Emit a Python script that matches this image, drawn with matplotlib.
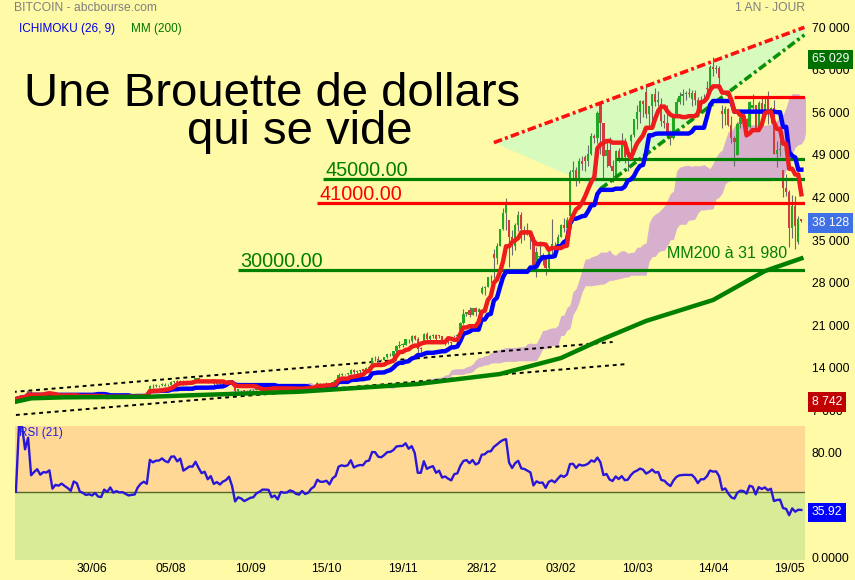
import numpy as np
import pandas as pd
import matplotlib
matplotlib.use("Agg")
import matplotlib.pyplot as plt

# Bitcoin daily prices in k$ (calendar days from 2020-05-25)
close_may20 = [8.90, 8.84, 9.20, 9.58, 9.43, 9.70, 9.45]
close_jun20 = [10.20, 9.52, 9.67, 9.80, 9.66, 9.65, 9.76, 9.78, 9.77, 9.87,
               9.32, 9.48, 9.48, 9.39, 9.45, 9.54, 9.46, 9.39, 9.29, 9.33,
               9.29, 9.68, 9.62, 9.30, 9.25, 9.16, 9.00, 9.12, 9.19, 9.14]
close_jul20 = [9.23, 9.09, 9.07, 9.13, 9.07, 9.34, 9.25, 9.43, 9.23, 9.29,
               9.24, 9.30, 9.24, 9.25, 9.19, 9.13, 9.15, 9.17, 9.21, 9.16,
               9.39, 9.53, 9.61, 9.55, 9.70, 9.93, 11.03, 10.94, 11.10, 11.11,
               11.32]
close_aug20 = [11.80, 11.07, 11.23, 11.19, 11.74, 11.77, 11.60, 11.75, 11.68, 11.88,
               11.41, 11.58, 11.78, 11.77, 11.87, 11.91, 12.25, 11.99, 11.75, 11.87,
               11.50, 11.66, 11.65, 11.75, 11.32, 11.46, 11.32, 11.54, 11.51, 11.68,
               11.65]
close_sep20 = [11.92, 11.39, 10.17, 10.48, 10.17, 10.28, 10.37, 10.13, 10.24, 10.36,
               10.40, 10.44, 10.33, 10.68, 10.79, 10.95, 10.95, 10.93, 11.09, 10.92,
               10.42, 10.53, 10.24, 10.74, 10.69, 10.73, 10.78, 10.70, 10.84, 10.78]
close_oct20 = [10.62, 10.57, 10.55, 10.67, 10.79, 10.60, 10.67, 10.92, 11.06, 11.30,
               11.38, 11.54, 11.43, 11.43, 11.50, 11.32, 11.36, 11.48, 11.74, 11.92,
               12.82, 12.97, 12.93, 13.11, 13.03, 13.03, 13.64, 13.27, 13.46, 13.56,
               13.80]
close_nov20 = [13.74, 13.55, 14.03, 14.13, 15.58, 15.57, 14.83, 15.48, 15.33, 15.30,
               15.70, 16.28, 16.32, 16.07, 15.96, 16.73, 17.66, 17.80, 17.82, 18.68,
               18.68, 18.42, 18.37, 19.16, 18.73, 17.15, 17.14, 17.72, 18.18, 19.63]
close_dec20 = [18.80, 19.20, 19.45, 18.70, 19.15, 19.36, 19.17, 18.32, 18.55, 18.26,
               18.06, 18.80, 19.17, 19.27, 19.44, 21.31, 22.81, 23.14, 23.87, 23.48,
               22.75, 23.82, 23.24, 23.73, 24.71, 26.44, 26.27, 27.08, 27.36, 28.84,
               29.00]
close_jan21 = [29.37, 32.13, 32.78, 31.97, 33.99, 36.82, 39.37, 40.80, 40.25, 38.24,
               35.54, 34.01, 37.39, 39.19, 36.82, 36.18, 35.79, 36.63, 36.07, 35.55,
               30.83, 33.01, 32.10, 32.29, 32.37, 32.57, 30.43, 33.47, 34.32, 34.32,
               33.11]
close_feb21 = [33.54, 35.51, 37.47, 36.93, 38.29, 39.27, 38.90, 46.20, 46.48, 44.92,
               47.91, 47.50, 47.11, 48.72, 47.94, 49.20, 52.15, 51.68, 55.89, 56.10,
               57.54, 54.21, 48.82, 49.71, 47.09, 46.34, 46.19, 45.14]
close_mar21 = [49.63, 48.38, 50.54, 48.56, 48.93, 48.91, 51.21, 52.30, 54.82, 56.01,
               57.81, 57.33, 61.24, 59.30, 55.66, 56.95, 58.92, 57.65, 58.03, 58.10,
               57.35, 54.53, 54.21, 52.77, 51.70, 55.14, 55.85, 55.78, 57.63, 58.73,
               58.92]
close_apr21 = [59.10, 59.02, 57.08, 58.21, 59.12, 57.99, 55.95, 58.08, 58.09, 59.77,
               59.96, 59.83, 63.50, 63.11, 63.31, 61.57, 60.31, 56.20, 55.72, 56.47,
               53.91, 51.76, 51.09, 50.05, 49.00, 54.02, 55.03, 54.82, 53.56, 57.75]
close_may21 = [57.83, 56.63, 57.21, 53.21, 57.44, 56.40, 57.36, 58.80, 58.23, 55.86,
               56.70, 49.15, 49.72, 49.88, 46.76, 46.43, 43.54, 42.91, 36.96, 40.56,
               37.30, 37.54, 34.70, 38.40, 38.128]

high_may20 = [8.98, 9.01, 9.22, 9.61, 9.61, 9.74, 9.70]
high_jun20 = [10.38, 10.23, 9.68, 9.88, 9.86, 9.73, 9.80, 9.80, 9.88, 9.94,
              9.96, 9.55, 9.50, 9.49, 9.50, 9.58, 9.57, 9.47, 9.42, 9.38,
              9.42, 9.71, 9.69, 9.66, 9.32, 9.30, 9.19, 9.20, 9.23, 9.20]
high_jul20 = [9.26, 9.24, 9.12, 9.17, 9.14, 9.36, 9.36, 9.45, 9.44, 9.31,
              9.30, 9.34, 9.34, 9.28, 9.27, 9.20, 9.18, 9.20, 9.23, 9.24,
              9.43, 9.54, 9.64, 9.65, 9.73, 10.05, 11.20, 11.30, 11.33, 11.17,
              11.45]
high_aug20 = [12.03, 11.82, 11.45, 11.40, 11.78, 11.90, 11.93, 11.80, 11.80, 12.05,
              12.05, 11.62, 11.79, 11.99, 11.98, 11.93, 12.36, 12.38, 12.00, 11.88,
              11.88, 11.67, 11.69, 11.80, 11.75, 11.53, 11.57, 11.55, 11.58, 11.68,
              11.73]
high_sep20 = [12.07, 11.95, 11.41, 10.58, 10.58, 10.34, 10.40, 10.43, 10.35, 10.49,
              10.45, 10.45, 10.44, 10.74, 10.91, 11.04, 11.01, 11.02, 11.13, 11.10,
              10.92, 10.55, 10.53, 10.77, 10.75, 10.77, 10.81, 10.96, 10.86, 10.84]
high_oct20 = [10.90, 10.66, 10.59, 10.68, 10.80, 10.80, 10.68, 10.95, 11.10, 11.49,
              11.44, 11.68, 11.56, 11.55, 11.62, 11.54, 11.39, 11.49, 11.80, 11.99,
              13.18, 13.16, 13.00, 13.15, 13.33, 13.20, 13.76, 13.86, 13.62, 13.64,
              14.05]
high_nov20 = [13.86, 13.82, 14.07, 14.23, 15.75, 15.91, 15.70, 15.65, 15.87, 15.43,
              15.83, 16.34, 16.45, 16.32, 16.13, 16.80, 17.82, 18.39, 18.08, 18.77,
              18.97, 18.74, 18.77, 19.36, 19.45, 19.04, 17.40, 17.86, 18.33, 19.75]
high_dec20 = [19.92, 19.31, 19.57, 19.51, 19.16, 19.41, 19.38, 19.27, 18.62, 18.55,
              18.26, 18.92, 19.38, 19.35, 19.53, 21.56, 23.64, 23.24, 24.09, 24.20,
              24.05, 23.82, 24.06, 23.78, 24.75, 26.72, 28.29, 27.39, 27.37, 28.94,
              29.24]
high_jan21 = [29.60, 33.16, 34.79, 33.60, 34.44, 36.88, 40.18, 41.95, 41.34, 41.35,
              38.26, 36.57, 37.75, 39.70, 39.58, 37.86, 36.81, 37.30, 37.85, 36.36,
              35.55, 33.78, 33.64, 32.91, 34.80, 32.92, 32.56, 33.78, 38.41, 34.85,
              34.29]
high_feb21 = [34.64, 35.98, 37.66, 38.59, 38.81, 40.90, 39.66, 46.56, 48.06, 47.04,
              48.44, 48.88, 48.13, 49.64, 49.00, 50.57, 52.51, 52.48, 56.19, 57.39,
              58.35, 57.53, 54.18, 51.27, 51.95, 48.22, 48.36, 47.00]
high_mar21 = [49.78, 50.13, 52.54, 51.74, 49.41, 49.20, 51.45, 52.38, 54.90, 57.26,
              58.08, 58.00, 61.68, 61.60, 60.54, 56.94, 58.98, 60.03, 59.45, 59.88,
              58.59, 58.40, 55.73, 57.20, 53.13, 55.23, 56.57, 56.43, 58.34, 59.24,
              59.74]
high_apr21 = [59.47, 60.04, 59.69, 58.43, 59.67, 59.64, 58.53, 58.60, 58.97, 61.20,
              60.64, 61.13, 63.73, 65.029, 63.78, 63.53, 62.51, 60.33, 57.23, 57.06,
              56.74, 55.34, 52.09, 51.17, 50.59, 54.32, 55.38, 56.23, 55.09, 57.91]
high_may21 = [58.45, 57.94, 58.96, 57.19, 57.90, 58.33, 58.60, 59.46, 59.21, 59.52,
              56.87, 57.94, 51.33, 51.44, 50.64, 49.53, 46.56, 45.80, 43.29, 42.45,
              42.17, 38.82, 38.27, 39.00, 38.50]

low_may20 = [8.64, 8.742, 8.81, 9.11, 9.34, 9.38, 9.40]
low_jun20 = [9.42, 9.27, 9.43, 9.54, 9.59, 9.54, 9.40, 9.64, 9.57, 9.70,
             9.10, 9.25, 9.39, 9.35, 8.99, 9.40, 9.37, 9.29, 9.24, 9.22,
             9.28, 9.28, 9.57, 9.23, 9.04, 9.09, 8.91, 8.96, 9.07, 9.09]
low_jul20 = [9.09, 9.05, 9.04, 9.06, 8.98, 9.06, 9.20, 9.24, 9.15, 9.16,
             9.22, 9.22, 9.20, 9.17, 9.17, 9.09, 9.09, 9.12, 9.12, 9.14,
             9.15, 9.38, 9.46, 9.52, 9.54, 9.70, 9.92, 10.66, 10.84, 10.86,
             10.98]
low_aug20 = [11.22, 10.70, 11.00, 11.07, 11.13, 11.51, 11.44, 11.57, 11.57, 11.62,
             11.19, 11.15, 11.53, 11.64, 11.78, 11.72, 11.79, 11.81, 11.62, 11.70,
             11.46, 11.46, 11.57, 11.59, 11.20, 11.13, 11.20, 11.32, 11.45, 11.50,
             11.55]
low_sep20 = [11.64, 11.22, 10.08, 9.97, 9.90, 10.09, 9.93, 9.98, 10.13, 10.22,
             10.26, 10.36, 10.21, 10.31, 10.65, 10.73, 10.80, 10.83, 10.88, 10.82,
             10.37, 10.36, 10.19, 10.21, 10.60, 10.69, 10.66, 10.68, 10.64, 10.70]
low_oct20 = [10.44, 10.39, 10.51, 10.49, 10.64, 10.54, 10.59, 10.62, 10.81, 11.05,
             11.25, 11.26, 11.36, 11.28, 11.27, 11.25, 11.30, 11.32, 11.40, 11.68,
             11.90, 12.72, 12.74, 12.88, 12.91, 12.80, 13.03, 13.05, 13.01, 13.17,
             13.54]
low_nov20 = [13.62, 13.30, 13.52, 13.53, 14.11, 15.20, 14.43, 14.80, 14.81, 15.09,
             15.28, 15.54, 15.99, 15.80, 15.80, 15.85, 16.57, 17.26, 17.40, 17.76,
             18.34, 17.70, 18.01, 18.08, 18.61, 16.49, 16.56, 16.90, 17.64, 18.17]
low_dec20 = [18.07, 18.60, 18.94, 18.64, 18.66, 19.00, 18.96, 18.22, 17.80, 17.96,
             17.62, 18.02, 18.75, 19.02, 19.03, 19.33, 21.27, 22.44, 22.90, 23.11,
             22.35, 22.72, 22.55, 22.75, 23.58, 24.71, 25.89, 26.12, 25.99, 27.37,
             27.96]
low_jan21 = [28.80, 29.00, 32.05, 28.70, 31.13, 34.00, 36.64, 36.57, 38.70, 35.11,
             30.55, 32.53, 33.40, 36.42, 34.44, 35.40, 33.91, 34.92, 35.80, 33.56,
             30.08, 28.95, 31.70, 31.22, 31.97, 30.89, 29.32, 30.02, 31.99, 32.64,
             32.38]
low_feb21 = [32.39, 33.44, 35.42, 36.29, 36.59, 38.24, 37.45, 38.22, 45.26, 43.87,
             44.35, 46.53, 46.44, 47.08, 46.35, 47.11, 48.97, 50.93, 50.90, 53.86,
             55.58, 49.12, 45.00, 47.07, 47.05, 44.45, 45.11, 43.16]
low_mar21 = [45.02, 47.83, 48.22, 47.67, 46.34, 47.33, 48.67, 49.36, 51.93, 53.24,
             54.24, 55.29, 56.08, 59.16, 55.00, 53.53, 54.18, 57.09, 56.99, 57.93,
             55.60, 53.69, 53.33, 51.74, 50.65, 51.53, 54.92, 54.91, 55.24, 57.43,
             57.11]
low_apr21 = [57.94, 58.46, 57.06, 56.99, 57.08, 57.25, 55.47, 55.99, 57.84, 58.00,
             59.09, 59.43, 59.83, 61.91, 62.42, 60.11, 59.73, 54.12, 53.40, 53.89,
             53.75, 50.95, 47.16, 49.88, 47.19, 48.98, 53.44, 53.97, 52.64, 53.38]
low_may21 = [57.05, 56.12, 56.49, 53.05, 52.99, 55.24, 55.39, 56.96, 56.38, 54.06,
             54.18, 49.15, 46.98, 48.87, 46.65, 43.87, 42.14, 42.23, 33.90, 35.29,
             33.59, 35.38, 33.80, 34.40, 37.90]

# moving average 200 as printed by the site
mm200_dates = ['2020-05-26', '2020-06-02', '2020-06-17', '2020-07-27', '2020-08-18',
               '2020-10-02', '2020-11-26', '2021-01-06', '2021-02-03', '2021-02-22',
               '2021-03-15', '2021-04-14', '2021-05-07', '2021-05-25']
mm200_vals = [8430, 8990, 9150, 9250, 9530, 10070, 11340, 12980, 15600, 18570,
              21700, 25140, 29900, 31980]

# drawn annotations
levels = [30000, 41000, 45000, 48300, 58500]
level_start = ['2020-09-04', '2020-10-12', '2020-10-14', '2021-03-01', '2021-04-23']
level_colors = ['#008000', '#ff0000', '#008000', '#008000', '#ff0000']
level_labelled = [True, True, True, False, False]

wedge_red_dates, wedge_red_vals = ['2021-01-04', '2021-05-26'], [51000, 69950]
wedge_green_dates, wedge_green_vals = ['2021-02-22', '2021-05-26'], [43400, 68700]
dotted_up_dates, dotted_up_vals = ['2020-05-25', '2021-02-26'], [10030, 18240]
dotted_dn_dates, dotted_dn_vals = ['2020-05-26', '2021-03-05'], [6250, 14630]

tick_dates = ['2020-06-30', '2020-08-05', '2020-09-10', '2020-10-15', '2020-11-19',
              '2020-12-28', '2021-02-03', '2021-03-10', '2021-04-14', '2021-05-19']
price_ticks = [7000, 14000, 21000, 28000, 35000, 42000, 49000, 56000, 63000, 70000]
rsi_last = 35.92

holidays = ['2020-12-25', '2021-01-01']
first_bar = '2020-05-26'

bg = '#fffaa6'
W, H = 855, 580


def bar_of(d):
    return np.busday_count(np.datetime64(first_bar), np.array(d, dtype='datetime64[D]'),
                           holidays=holidays)


def fx(px):
    return px / W


def fy(py):
    return 1 - py / H


months = [(close_may20, high_may20, low_may20), (close_jun20, high_jun20, low_jun20),
          (close_jul20, high_jul20, low_jul20), (close_aug20, high_aug20, low_aug20),
          (close_sep20, high_sep20, low_sep20), (close_oct20, high_oct20, low_oct20),
          (close_nov20, high_nov20, low_nov20), (close_dec20, high_dec20, low_dec20),
          (close_jan21, high_jan21, low_jan21), (close_feb21, high_feb21, low_feb21),
          (close_mar21, high_mar21, low_mar21), (close_apr21, high_apr21, low_apr21),
          (close_may21, high_may21, low_may21)]
close = sum([m[0] for m in months], [])
high = sum([m[1] for m in months], [])
low = sum([m[2] for m in months], [])

daily = pd.DataFrame({'close': close, 'high': high, 'low': low},
                     index=pd.date_range('2020-05-25', periods=len(close))) * 1000
daily['open'] = daily['close'].shift(1)

# the site only shows weekdays (no Christmas / new year)
keep = (daily.index.dayofweek < 5) & ~daily.index.isin(pd.to_datetime(holidays))
bars = daily[keep].loc[first_bar:].copy()
bars['high'] = bars[['high', 'open', 'close']].max(axis=1)
bars['low'] = bars[['low', 'open', 'close']].min(axis=1)
x = np.arange(len(bars))

# ichimoku
tenkan = (bars['high'].rolling(9, min_periods=1).max() + bars['low'].rolling(9, min_periods=1).min()) / 2
kijun = (bars['high'].rolling(26, min_periods=1).max() + bars['low'].rolling(26, min_periods=1).min()) / 2
ssa = (tenkan + kijun) / 2
ssb = (bars['high'].rolling(52, min_periods=1).max() + bars['low'].rolling(52, min_periods=1).min()) / 2

# rsi 21
delta = bars['close'].diff().fillna(0)
gain = delta.clip(lower=0).ewm(alpha=1 / 21, adjust=False).mean()
loss = (-delta.clip(upper=0)).ewm(alpha=1 / 21, adjust=False).mean()
rsi = (100 * gain / (gain + loss)).fillna(50)

fig = plt.figure(figsize=(W / 100, H / 100), dpi=100, facecolor=bg)
plt.rcParams['font.family'] = ['Liberation Sans', 'DejaVu Sans']

ax = fig.add_axes([fx(15), fy(420), fx(790), 405 / H])
ax_r = fig.add_axes([fx(15), fy(560), fx(790), 134.3 / H], sharex=ax)
for a in (ax, ax_r):
    a.set_facecolor('none')
    for s in a.spines.values():
        s.set_visible(False)

x_left, x_right = -0.3, 259.2
ax.set_xlim(x_left, x_right)
ax.set_ylim(5425, 71972)

# wedge and cloud
wr = bar_of(wedge_red_dates)
wg = bar_of(wedge_green_dates)
ax.fill([wr[0], wr[1], wg[1], wg[0]],
        [wedge_red_vals[0], wedge_red_vals[1], wedge_green_vals[1], wedge_green_vals[0]],
        color='#d6fbbd', lw=0, zorder=1)
ax.fill_between(x + 26, ssa, ssb, color='#d6b0cc', lw=0, zorder=1.2)

ax.plot(bar_of(dotted_up_dates), dotted_up_vals, color='black', lw=1.4,
        ls=(0, (2, 2)), zorder=2)
ax.plot(bar_of(dotted_dn_dates), dotted_dn_vals, color='black', lw=1.4,
        ls=(0, (2, 2)), zorder=2)

# candles
up = bars['close'] >= bars['open']
body_lo = bars[['open', 'close']].min(axis=1)
body_h = (bars['close'] - bars['open']).abs().clip(lower=60)
ax.vlines(x, bars['low'], bars['high'], color='#6a6a6a', lw=0.8, zorder=3)
ax.bar(x, body_h, bottom=body_lo, width=0.75,
       color=np.where(up, '#22a822', '#d23c3c'), lw=0, zorder=3.1)

ax.plot(wr, wedge_red_vals, color='#ff1010', lw=2.6, ls=(0, (2.4, 0.9, 0.8, 0.9)), zorder=4)
ax.plot(wg, wedge_green_vals, color='#089008', lw=2.6, ls=(0, (2.4, 0.9, 0.8, 0.9)), zorder=4)

for v, d, c, lab in zip(levels, level_start, level_colors, level_labelled):
    ax.hlines(v, bar_of(d), x_right, color=c, lw=2.3, zorder=4.5)
    if lab:
        ax.annotate('{:.2f}'.format(v), xy=(bar_of(d), v), xytext=(1.5, 2.2),
                    textcoords='offset points', color=c, fontsize=14.3,
                    va='baseline', ha='left', zorder=6)

ax.plot(x, kijun, color='#0000ff', lw=3.2, zorder=5)
ax.plot(x, tenkan, color='#ee1c1c', lw=3.2, zorder=5.1)
ax.plot(bar_of(mm200_dates), mm200_vals, color='#008000', lw=3.2, zorder=5.2)

ax.text(bar_of('2021-03-24'), 32040,
        'MM200 à ' + '{:,}'.format(mm200_vals[-1]).replace(',', ' '),
        color='#008000', fontsize=11.5, va='baseline', ha='left', zorder=6)

# right price scale
ax.yaxis.tick_right()
ax.set_yticks(price_ticks)
ax.set_yticklabels(['{:,}'.format(v).replace(',', ' ') for v in price_ticks])
ax.tick_params(axis='y', length=0, pad=5, labelsize=8.7)
ax.tick_params(axis='x', bottom=False, labelbottom=False)


def value_box(a, val, text, col):
    a.annotate(text, xy=(1, val), xycoords=('axes fraction', 'data'),
               xytext=(5, -1.5), textcoords='offset points', va='center', ha='left',
               color='white', fontsize=8.7, annotation_clip=False, zorder=10,
               bbox=dict(boxstyle='square,pad=0.3', fc=col, ec='none'))


def fmt_k(v):
    return '{:,.0f}'.format(v).replace(',', ' ')


value_box(ax, bars['high'].max(), fmt_k(bars['high'].max()), '#007000')
value_box(ax, bars['close'].iloc[-1], fmt_k(bars['close'].iloc[-1]), '#3f70e6')
value_box(ax, bars['low'].min(), fmt_k(bars['low'].min()), '#c00000')

# rsi panel
ax_r.set_ylim(-1.7, 100)
ax_r.axhspan(50, 100, color='#ffd896', lw=0, zorder=0)
ax_r.axhspan(-1.7, 50, color='#d9eb97', lw=0, zorder=0)
ax_r.axhline(50, color='#4f6a2a', lw=1.0, zorder=1)
ax_r.plot(x, rsi, color='#2a16d6', lw=1.7, zorder=3)
ax_r.yaxis.tick_right()
ax_r.set_yticks([0, 80])
ax_r.set_yticklabels(['0.0000', '80.00'])
ax_r.tick_params(axis='y', length=0, pad=5, labelsize=8.7)
value_box(ax_r, rsi_last, '{:.2f}'.format(rsi_last), '#0000ff')

ax_r.set_xticks(bar_of(tick_dates))
ax_r.set_xticklabels([pd.Timestamp(d).strftime('%d/%m') for d in tick_dates],
                     family=['Liberation Sans Narrow', 'Liberation Sans'])
ax_r.tick_params(axis='x', length=0, pad=2.5, labelsize=8.7)
fig.text(fx(19), fy(433), 'RSI (21)', color='#2020e0', fontsize=8.5, va='center', zorder=10)

# titles
fig.text(fx(14), fy(8), 'BITCOIN - abcbourse.com', color='#7f7f7f', fontsize=8.7, va='center')
fig.text(fx(805), fy(8), '1 AN - JOUR', color='#7f7f7f', fontsize=8.7, va='center', ha='right')
fig.text(fx(19), fy(29), 'ICHIMOKU (26, 9)', color='#0000e6', fontsize=8.5, va='center')
fig.text(fx(131), fy(29), 'MM (200)', color='#007800', fontsize=8.5, va='center')
fig.text(fx(24), fy(106.5), 'Une Brouette de dollars', color='black', fontsize=34, va='baseline')
fig.text(fx(187), fy(144), 'qui se vide', color='black', fontsize=34, va='baseline')

fig.savefig('out.png', dpi=100, facecolor=bg)
